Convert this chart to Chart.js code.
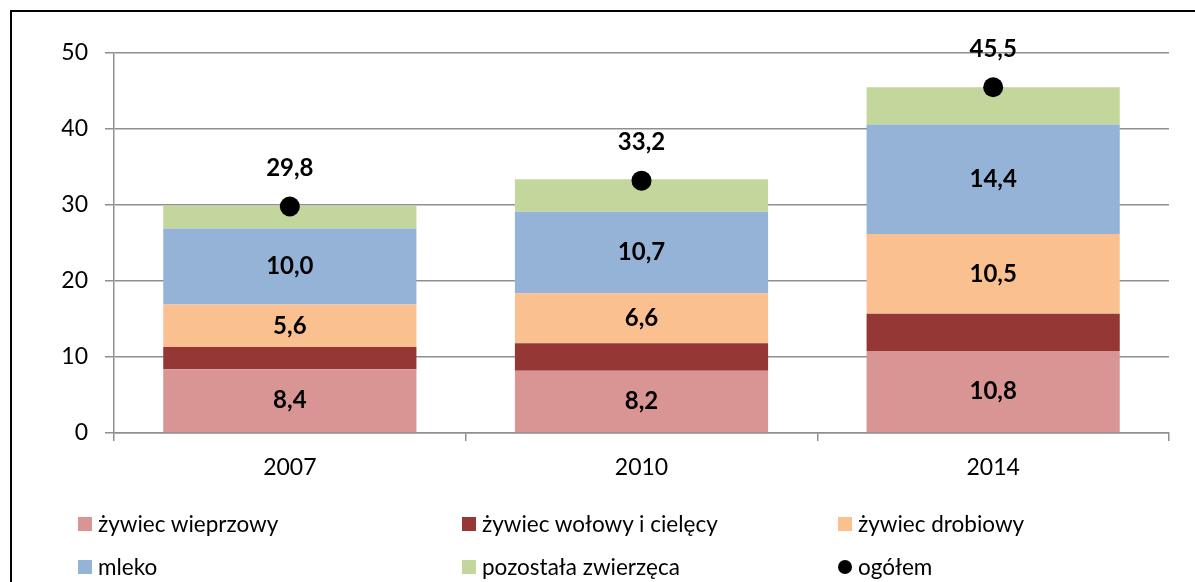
<!DOCTYPE html>
<html lang="pl">
<head>
<meta charset="utf-8">
<script src="https://cdn.jsdelivr.net/npm/chart.js@4/dist/chart.umd.min.js"></script>
<style>
  body { margin: 0; background: #fff; font-family: Lato, 'Open Sans', sans-serif; }
  .wrap { position: relative; width: 1195px; height: 582px; overflow: hidden; }
  .frame { position: absolute; left: 10px; top: 10px; width: 1200px; height: 600px; border: 2px solid #000; box-sizing: border-box; }
  #chart { position: absolute; left: 0; top: 0; }
  .legend { position: absolute; left: 78px; top: 502px; display: grid; grid-template-columns: 384px 376px 300px; grid-auto-rows: 43px; font-size: 22.5px; color: #000; }
  .legend div { display: flex; align-items: center; white-space: nowrap; }
  .legend i { display: inline-block; width: 14px; height: 14px; margin-right: 6px; }
  .legend i.dot { border-radius: 50%; background: #000; }
</style>
</head>
<body>
<div class="wrap">
  <div class="frame"></div>
  <canvas id="chart" width="1195" height="582"></canvas>
  <div class="legend" id="legend"></div>
</div>
<script>
const years = ['2007', '2010', '2014'];

const wieprzowy = [8.4, 8.2, 10.8];
const wolowy = [2.9, 3.6, 4.9];
const drobiowy = [5.6, 6.6, 10.5];
const mleko = [10.0, 10.7, 14.4];
const pozostala = [3.0, 4.3, 4.9];
const ogolem = [29.8, 33.2, 45.5];

const yTicks = [0, 10, 20, 30, 40, 50];

const seriesNames = ['żywiec wieprzowy', 'żywiec wołowy i cielęcy', 'żywiec drobiowy', 'mleko', 'pozostała zwierzęca', 'ogółem'];
const colors = ['#d99594', '#953735', '#fac090', '#95b3d7', '#c3d69b', '#000000'];

const fmt = (v) => v.toFixed(1).replace('.', ',');

// napisy z wartościami na słupkach i nad punktami
const valueLabels = {
  id: 'valueLabels',
  afterDatasetsDraw(chart) {
    const ctx = chart.ctx;
    ctx.save();
    ctx.fillStyle = '#000';
    ctx.font = 'bold 24px Lato, sans-serif';
    ctx.textAlign = 'center';
    ctx.textBaseline = 'middle';
    chart.data.datasets.forEach((ds, i) => {
      if (!ds.showValues) return;
      const meta = chart.getDatasetMeta(i);
      meta.data.forEach((el, j) => {
        let y;
        if (ds.type === 'line') {
          y = el.y - 38;
        } else {
          y = (el.y + el.base) / 2;
        }
        ctx.fillText(fmt(ds.data[j]), el.x, y);
      });
    });
    ctx.restore();
  }
};

const barData = [wieprzowy, wolowy, drobiowy, mleko, pozostala];
const showOnBar = [true, false, true, true, false];

const datasets = barData.map((d, i) => ({
  type: 'bar',
  label: seriesNames[i],
  data: d,
  backgroundColor: colors[i],
  borderWidth: 0,
  stack: 'bars',
  order: 1,
  showValues: showOnBar[i],
  barPercentage: 0.72,
  categoryPercentage: 1.0,
}));

datasets.push({
  type: 'line',
  label: seriesNames[5],
  data: ogolem,
  showLine: false,
  stack: 'total',
  order: 0,
  pointRadius: 10,
  pointHoverRadius: 10,
  pointBackgroundColor: '#000',
  pointBorderWidth: 0,
  showValues: true,
});

const gridColor = '#8f8f8f';

new Chart(document.getElementById('chart').getContext('2d'), {
  type: 'bar',
  data: { labels: years, datasets: datasets },
  plugins: [valueLabels],
  options: {
    responsive: false,
    animation: false,
    layout: { padding: { left: 0, top: 53, right: 26, bottom: 89 } },
    plugins: {
      legend: { display: false },
      tooltip: { enabled: false },
    },
    scales: {
      x: {
        stacked: true,
        grid: { drawOnChartArea: false, drawTicks: true, tickLength: 8, color: gridColor, lineWidth: 1.5, offset: true },
        border: { color: gridColor, width: 1.5 },
        ticks: { color: '#000', font: { family: 'Lato', size: 23 }, padding: 13 },
        afterFit: (scale) => { scale.height = 60; },
      },
      y: {
        stacked: true,
        min: 0,
        max: 50,
        afterBuildTicks: (scale) => { scale.ticks = yTicks.map((v) => ({ value: v })); },
        grid: { color: gridColor, lineWidth: 1.5, tickLength: 9 },
        border: { color: gridColor, width: 1.5 },
        ticks: { color: '#000', font: { family: 'Lato', size: 23 }, padding: 17 },
        afterFit: (scale) => { scale.width = 114; },
      },
    },
  },
});

const legend = document.getElementById('legend');
seriesNames.forEach((name, i) => {
  const item = document.createElement('div');
  const box = document.createElement('i');
  if (i === 5) box.className = 'dot';
  else box.style.background = colors[i];
  item.appendChild(box);
  item.appendChild(document.createTextNode(name));
  legend.appendChild(item);
});
</script>
</body>
</html>
